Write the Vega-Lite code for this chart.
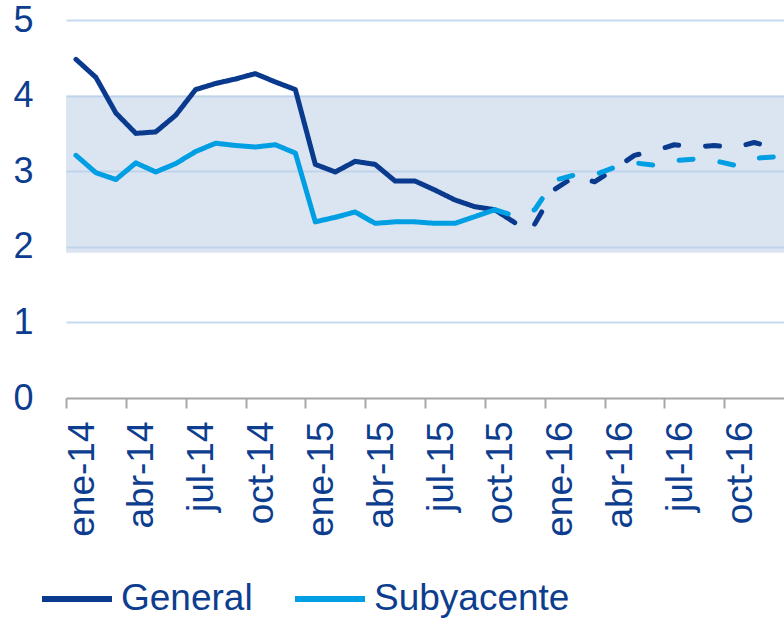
{
  "$schema": "https://vega.github.io/schema/vega-lite/v6.json",
  "width": 718,
  "height": 378,
  "autosize": {"type": "none"},
  "padding": {"left": 66, "top": 20, "right": 0, "bottom": 222},
  "background": "white",
  "config": {"view": {"stroke": null}, "font": "Liberation Sans"},
  "datasets": {
    "banda": [{"min": 1.92, "max": 4.0}],
    "series": [
      {"mes": "ene-14", "serie": "General", "tipo": "observado", "valor": 4.48},
      {"mes": "feb-14", "serie": "General", "tipo": "observado", "valor": 4.24},
      {"mes": "mar-14", "serie": "General", "tipo": "observado", "valor": 3.77},
      {"mes": "abr-14", "serie": "General", "tipo": "observado", "valor": 3.50},
      {"mes": "may-14", "serie": "General", "tipo": "observado", "valor": 3.52},
      {"mes": "jun-14", "serie": "General", "tipo": "observado", "valor": 3.74},
      {"mes": "jul-14", "serie": "General", "tipo": "observado", "valor": 4.08},
      {"mes": "ago-14", "serie": "General", "tipo": "observado", "valor": 4.16},
      {"mes": "sep-14", "serie": "General", "tipo": "observado", "valor": 4.22},
      {"mes": "oct-14", "serie": "General", "tipo": "observado", "valor": 4.29},
      {"mes": "nov-14", "serie": "General", "tipo": "observado", "valor": 4.18},
      {"mes": "dic-14", "serie": "General", "tipo": "observado", "valor": 4.08},
      {"mes": "ene-15", "serie": "General", "tipo": "observado", "valor": 3.09},
      {"mes": "feb-15", "serie": "General", "tipo": "observado", "valor": 2.99},
      {"mes": "mar-15", "serie": "General", "tipo": "observado", "valor": 3.13},
      {"mes": "abr-15", "serie": "General", "tipo": "observado", "valor": 3.09},
      {"mes": "may-15", "serie": "General", "tipo": "observado", "valor": 2.87},
      {"mes": "jun-15", "serie": "General", "tipo": "observado", "valor": 2.87},
      {"mes": "jul-15", "serie": "General", "tipo": "observado", "valor": 2.75},
      {"mes": "ago-15", "serie": "General", "tipo": "observado", "valor": 2.62},
      {"mes": "sep-15", "serie": "General", "tipo": "observado", "valor": 2.53},
      {"mes": "oct-15", "serie": "General", "tipo": "observado", "valor": 2.49},
      {"mes": "nov-15", "serie": "General", "tipo": "observado", "valor": 2.32},
      {"mes": "dic-15", "serie": "General", "tipo": "previsión", "valor": 2.30},
      {"mes": "ene-16", "serie": "General", "tipo": "previsión", "valor": 2.76},
      {"mes": "feb-16", "serie": "General", "tipo": "previsión", "valor": 2.93},
      {"mes": "mar-16", "serie": "General", "tipo": "previsión", "valor": 2.86},
      {"mes": "abr-16", "serie": "General", "tipo": "previsión", "valor": 3.03},
      {"mes": "may-16", "serie": "General", "tipo": "previsión", "valor": 3.21},
      {"mes": "jun-16", "serie": "General", "tipo": "previsión", "valor": 3.27},
      {"mes": "jul-16", "serie": "General", "tipo": "previsión", "valor": 3.35},
      {"mes": "ago-16", "serie": "General", "tipo": "previsión", "valor": 3.32},
      {"mes": "sep-16", "serie": "General", "tipo": "previsión", "valor": 3.34},
      {"mes": "oct-16", "serie": "General", "tipo": "previsión", "valor": 3.31},
      {"mes": "nov-16", "serie": "General", "tipo": "previsión", "valor": 3.38},
      {"mes": "dic-16", "serie": "General", "tipo": "previsión", "valor": 3.31},
      {"mes": "ene-14", "serie": "Subyacente", "tipo": "observado", "valor": 3.21},
      {"mes": "feb-14", "serie": "Subyacente", "tipo": "observado", "valor": 2.98},
      {"mes": "mar-14", "serie": "Subyacente", "tipo": "observado", "valor": 2.89},
      {"mes": "abr-14", "serie": "Subyacente", "tipo": "observado", "valor": 3.11},
      {"mes": "may-14", "serie": "Subyacente", "tipo": "observado", "valor": 2.99},
      {"mes": "jun-14", "serie": "Subyacente", "tipo": "observado", "valor": 3.10},
      {"mes": "jul-14", "serie": "Subyacente", "tipo": "observado", "valor": 3.26},
      {"mes": "ago-14", "serie": "Subyacente", "tipo": "observado", "valor": 3.37},
      {"mes": "sep-14", "serie": "Subyacente", "tipo": "observado", "valor": 3.34},
      {"mes": "oct-14", "serie": "Subyacente", "tipo": "observado", "valor": 3.32},
      {"mes": "nov-14", "serie": "Subyacente", "tipo": "observado", "valor": 3.35},
      {"mes": "dic-14", "serie": "Subyacente", "tipo": "observado", "valor": 3.24},
      {"mes": "ene-15", "serie": "Subyacente", "tipo": "observado", "valor": 2.33},
      {"mes": "feb-15", "serie": "Subyacente", "tipo": "observado", "valor": 2.39},
      {"mes": "mar-15", "serie": "Subyacente", "tipo": "observado", "valor": 2.46},
      {"mes": "abr-15", "serie": "Subyacente", "tipo": "observado", "valor": 2.31},
      {"mes": "may-15", "serie": "Subyacente", "tipo": "observado", "valor": 2.33},
      {"mes": "jun-15", "serie": "Subyacente", "tipo": "observado", "valor": 2.33},
      {"mes": "jul-15", "serie": "Subyacente", "tipo": "observado", "valor": 2.31},
      {"mes": "ago-15", "serie": "Subyacente", "tipo": "observado", "valor": 2.31},
      {"mes": "sep-15", "serie": "Subyacente", "tipo": "observado", "valor": 2.40},
      {"mes": "oct-15", "serie": "Subyacente", "tipo": "observado", "valor": 2.49},
      {"mes": "oct-15", "serie": "Subyacente", "tipo": "previsión", "valor": 2.49},
      {"mes": "nov-15", "serie": "Subyacente", "tipo": "previsión", "valor": 2.41},
      {"mes": "dic-15", "serie": "Subyacente", "tipo": "previsión", "valor": 2.49},
      {"mes": "ene-16", "serie": "Subyacente", "tipo": "previsión", "valor": 2.88},
      {"mes": "feb-16", "serie": "Subyacente", "tipo": "previsión", "valor": 2.95},
      {"mes": "mar-16", "serie": "Subyacente", "tipo": "previsión", "valor": 2.95},
      {"mes": "abr-16", "serie": "Subyacente", "tipo": "previsión", "valor": 3.05},
      {"mes": "may-16", "serie": "Subyacente", "tipo": "previsión", "valor": 3.11},
      {"mes": "jun-16", "serie": "Subyacente", "tipo": "previsión", "valor": 3.08},
      {"mes": "jul-16", "serie": "Subyacente", "tipo": "previsión", "valor": 3.14},
      {"mes": "ago-16", "serie": "Subyacente", "tipo": "previsión", "valor": 3.16},
      {"mes": "sep-16", "serie": "Subyacente", "tipo": "previsión", "valor": 3.14},
      {"mes": "oct-16", "serie": "Subyacente", "tipo": "previsión", "valor": 3.08},
      {"mes": "nov-16", "serie": "Subyacente", "tipo": "previsión", "valor": 3.17},
      {"mes": "dic-16", "serie": "Subyacente", "tipo": "previsión", "valor": 3.19}
    ]
  },
  "layer": [
    {
      "data": {"name": "banda"},
      "mark": {"type": "rect", "color": "#b8cce6", "opacity": 0.5},
      "encoding": {
        "y": {"field": "min", "type": "quantitative", "scale": {"domain": [0, 5]}, "title": null},
        "y2": {"field": "max"}
      }
    },
    {
      "data": {"name": "series"},
      "mark": {"type": "line", "strokeWidth": 5, "strokeCap": "round", "strokeJoin": "round"},
      "encoding": {
        "x": {
          "field": "mes",
          "type": "ordinal",
          "sort": null,
          "scale": {
            "type": "point",
            "padding": 0.5,
            "domain": ["ene-14","feb-14","mar-14","abr-14","may-14","jun-14","jul-14","ago-14","sep-14","oct-14","nov-14","dic-14","ene-15","feb-15","mar-15","abr-15","may-15","jun-15","jul-15","ago-15","sep-15","oct-15","nov-15","dic-15","ene-16","feb-16","mar-16","abr-16","may-16","jun-16","jul-16","ago-16","sep-16","oct-16","nov-16","dic-16"]
          },
          "axis": {
            "title": null,
            "values": ["ene-14","abr-14","jul-14","oct-14","ene-15","abr-15","jul-15","oct-15","ene-16","abr-16","jul-16","oct-16"],
            "tickOffset": -9.97,
            "labelOffset": 16,
            "labelAngle": 270,
            "labelFontSize": 37,
            "labelColor": "#0d3d8f",
            "labelPadding": 13,
            "tickSize": 10,
            "tickWidth": 2,
            "tickColor": "#a6a6a6",
            "domainColor": "#a6a6a6",
            "domainWidth": 2,
            "grid": false
          }
        },
        "y": {
          "field": "valor",
          "type": "quantitative",
          "scale": {"domain": [0, 5]},
          "axis": {
            "title": null,
            "values": [0, 1, 2, 3, 4, 5],
            "format": "d",
            "domain": false,
            "ticks": false,
            "grid": true,
            "gridColor": "#c6d9f1",
            "gridWidth": 2,
            "gridOpacity": {"condition": {"test": "datum.value === 0", "value": 0}, "value": 1},
            "labelFontSize": 36,
            "labelColor": "#0d3d8f",
            "labelPadding": 33
          }
        },
        "color": {
          "field": "serie",
          "type": "nominal",
          "scale": {"domain": ["General", "Subyacente"], "range": ["#0a3a8e", "#009fe3"]},
          "legend": {
            "title": null,
            "orient": "none",
            "legendX": -27,
            "legendY": 541,
            "direction": "horizontal",
            "symbolType": "stroke",
            "symbolSize": 4900,
            "symbolStrokeWidth": 6,
            "labelFontSize": 37,
            "labelColor": "#0d3d8f",
            "labelLimit": 400,
            "labelOffset": 6,
            "columnPadding": 30
          }
        },
        "strokeDash": {
          "field": "tipo",
          "type": "nominal",
          "scale": {"domain": ["observado", "previsión"], "range": [[1, 0], [14, 27]]},
          "legend": null
        }
      }
    }
  ]
}
